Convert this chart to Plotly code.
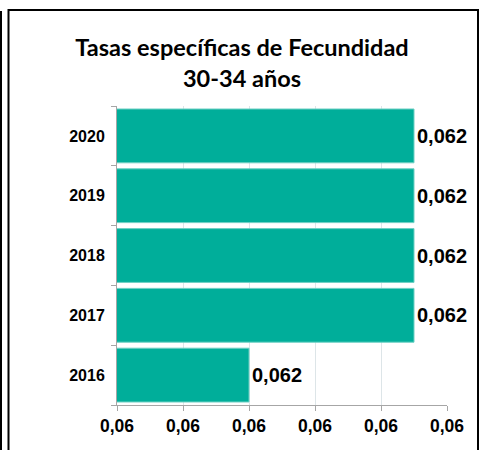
import plotly.graph_objects as go

years = ["2016", "2017", "2018", "2019", "2020"]
rates = [0.0620, 0.06225, 0.06225, 0.06225, 0.06225]
x_ticks = [0.0618, 0.0619, 0.0620, 0.0621, 0.0622, 0.0623]
title_text = "Tasas específicas de Fecundidad<br>30-34 años"

W, H = 484, 450
L, R, T, B = 117, 37, 106, 45
pw, ph = W - L - R, H - T - B

def px_x(p):
    return (p - L) / pw

def px_y(p):
    return 1 - (p - T) / ph

fig = go.Figure(go.Bar(
    y=years, x=rates, orientation="h",
    marker=dict(color="#00AE9A", line=dict(color="#6fd0c4", width=1)),
    texttemplate="%{x:.3f}", textposition="outside",
    textfont=dict(family="Liberation Sans", size=20, color="black", weight="bold"),
    constraintext="none", cliponaxis=False, hoverinfo="skip",
))

shapes = [
    dict(type="line", xref="paper", yref="paper", x0=px_x(1), x1=px_x(1), y0=px_y(11), y1=px_y(470),
         line=dict(color="black", width=2)),
    dict(type="line", xref="paper", yref="paper", x0=px_x(8.5), x1=px_x(8.5), y0=px_y(9), y1=px_y(470),
         line=dict(color="black", width=2)),
    dict(type="line", xref="paper", yref="paper", x0=px_x(8), x1=px_x(478.5), y0=px_y(10), y1=px_y(10),
         line=dict(color="black", width=2)),
    dict(type="line", xref="paper", yref="paper", x0=px_x(478), x1=px_x(478), y0=px_y(9), y1=px_y(470),
         line=dict(color="black", width=2)),
]

fig.update_layout(
    width=W, height=H,
    margin=dict(l=L, r=R, t=T, b=B),
    paper_bgcolor="white", plot_bgcolor="white",
    separators=",.",
    showlegend=False,
    bargap=0.1,
    title=dict(text=title_text, x=0.5, xanchor="center", y=1 - 56 / H, yanchor="middle",
               font=dict(family="Lato", size=23.5, color="black", weight="bold")),
    xaxis=dict(range=[x_ticks[0], x_ticks[-1]], tickvals=x_ticks, tickformat=".2f",
               showgrid=True, gridcolor="#dde5e8", gridwidth=1,
               showline=True, linecolor="#a6a6a6", linewidth=1,
               ticks="outside", ticklen=5, tickcolor="#a6a6a6",
               tickfont=dict(family="Liberation Sans", size=17.5, color="black", weight="bold"),
               zeroline=False, fixedrange=True),
    yaxis=dict(showline=True, linecolor="#a6a6a6", linewidth=1,
               ticks="outside", ticklen=5, tickcolor="#a6a6a6", tickson="boundaries",
               ticklabelstandoff=8,
               tickfont=dict(family="Liberation Sans", size=16, color="black", weight="bold"),
               showgrid=False, fixedrange=True),
    shapes=shapes,
)

fig.write_html("out.html", config={"displayModeBar": False},
               post_script="document.body.style.margin='0';")
